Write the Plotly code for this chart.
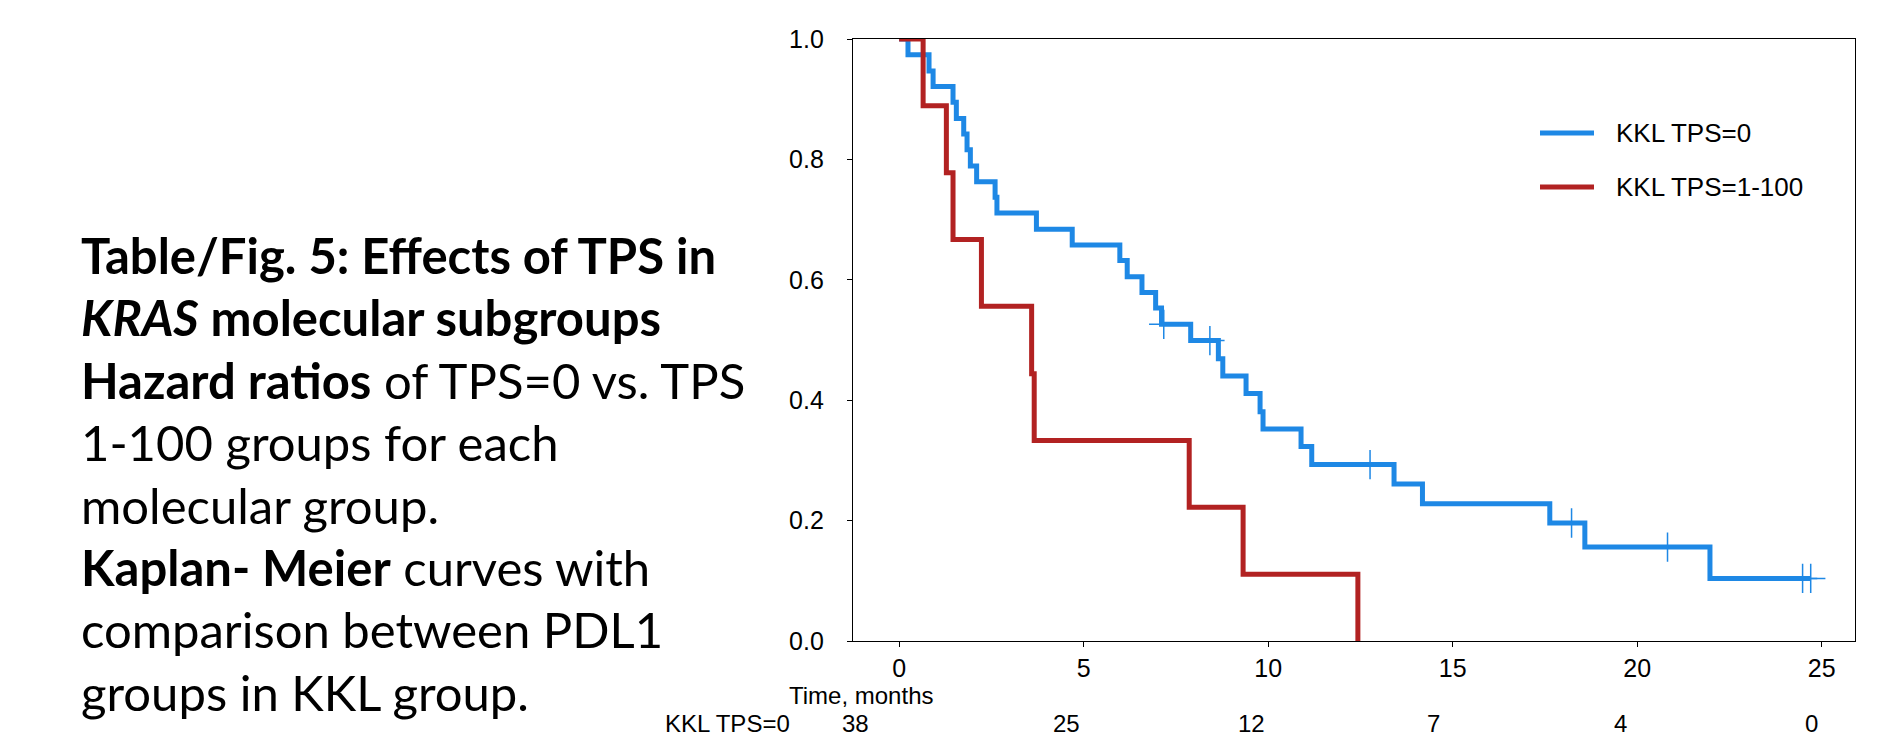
import plotly.graph_objects as go

# ---- data ----
tps0_times = [0, 0.24, 0.81, 0.92, 1.46, 1.55, 1.75, 1.84, 1.93, 2.10, 2.60, 2.65, 3.72, 4.69,
              5.98, 6.18, 6.58, 6.95, 7.11, 7.90, 8.65, 8.77, 9.40, 9.78, 9.86, 10.89, 11.18,
              13.41, 14.18, 17.63, 18.58, 21.97, 24.70]
tps0_surv = [1.0, 0.974, 0.947, 0.921, 0.895, 0.868, 0.842, 0.816, 0.789, 0.763, 0.737, 0.711,
             0.684, 0.658, 0.632, 0.605, 0.579, 0.553, 0.526, 0.499, 0.469, 0.440, 0.411, 0.381,
             0.352, 0.323, 0.293, 0.261, 0.228, 0.196, 0.156, 0.104, 0.104]
tps0_cens_times = [7.17, 8.42, 12.76, 18.22, 20.82, 24.48, 24.70]
tps0_cens_surv = [0.526, 0.499, 0.293, 0.196, 0.156, 0.104, 0.104]

tps1_times = [0, 0.65, 1.28, 1.46, 2.23, 3.59, 3.66, 7.86, 9.32, 12.43]
tps1_surv = [1.0, 0.889, 0.778, 0.667, 0.556, 0.444, 0.333, 0.222, 0.111, 0.0]

series_names = ["KKL TPS=0", "KKL TPS=1-100"]
x_ticks = [0, 5, 10, 15, 20, 25]
y_ticks = [0.0, 0.2, 0.4, 0.6, 0.8, 1.0]
risk_times = [0, 5, 10, 15, 20, 25]
risk_counts = [38, 25, 12, 7, 4, 0]

BLUE = "#1E88E5"
RED = "#B22222"
AX_FONT = "Liberation Sans, Arial, sans-serif"
TXT_FONT = "Lato, Open Sans, sans-serif"

# page body has an 8px margin; work in screen pixels and convert
OFF = 8
W, H = 1882 - 2 * OFF, 745 - 2 * OFF
PLOT_L, PLOT_R, PLOT_T, PLOT_B = 853, 1855, 39, 641   # screen pixels of plot area
L = PLOT_L - OFF
T = PLOT_T - OFF
R = W - (PLOT_R - OFF)
B = H - (PLOT_B - OFF)
PW, PH = PLOT_R - PLOT_L, PLOT_B - PLOT_T


def px_x(px):
    return (px - PLOT_L) / PW


def px_y(py):
    return (PLOT_B - py) / PH


fig = go.Figure()
fig.add_trace(go.Scatter(x=tps0_times, y=tps0_surv, mode="lines", line_shape="hv",
                         line=dict(color=BLUE, width=5), name=series_names[0],
                         showlegend=False))
fig.add_trace(go.Scatter(x=tps0_cens_times, y=tps0_cens_surv, mode="markers",
                         marker=dict(symbol="cross-thin", size=21,
                                     line=dict(color=BLUE, width=1.5)),
                         showlegend=False, cliponaxis=False, name=series_names[0] + " censored"))
fig.add_trace(go.Scatter(x=tps1_times, y=tps1_surv, mode="lines", line_shape="hv",
                         line=dict(color=RED, width=5), name=series_names[1],
                         showlegend=False))

annotations = []
shapes = []
# left explanatory text
left_lines = [
    "<b>Table/Fig. 5: Effects of TPS in</b>",
    "<b><i>KRAS</i> molecular subgroups</b>",
    "<b>Hazard ratios</b> of TPS=0 vs. TPS",
    "1-100 groups for each",
    "molecular group.",
    "<b>Kaplan- Meier</b> curves with",
    "comparison between PDL1",
    "groups in KKL group.",
]
for i, txt in enumerate(left_lines):
    annotations.append(dict(text=txt, xref="paper", yref="paper",
                            x=px_x(79), y=px_y(255 + i * 62.4),
                            xanchor="left", yanchor="middle", showarrow=False,
                            font=dict(family=TXT_FONT, size=49, color="black")))

# legend (drawn manually to match sample length)
legend_colors = [BLUE, RED]
legend_rows = [133, 187]
for name, col, ry in zip(series_names, legend_colors, legend_rows):
    shapes.append(dict(type="line", xref="paper", yref="paper",
                       x0=px_x(1540), x1=px_x(1594), y0=px_y(ry), y1=px_y(ry),
                       line=dict(color=col, width=5)))
    annotations.append(dict(text=name, xref="paper", yref="paper",
                            x=px_x(1614), y=px_y(ry), xanchor="left", yanchor="middle",
                            showarrow=False, font=dict(family=AX_FONT, size=26, color="black")))

# x axis title
annotations.append(dict(text="Time, months", xref="paper", yref="paper",
                        x=px_x(861), y=px_y(695), xanchor="center", yanchor="middle",
                        showarrow=False, font=dict(family=AX_FONT, size=24, color="black")))
# number at risk row
annotations.append(dict(text="KKL TPS=0", xref="paper", yref="paper",
                        x=px_x(663), y=px_y(723), xanchor="left", yanchor="middle",
                        showarrow=False, font=dict(family=AX_FONT, size=24, color="black")))
risk_shift = [-44, -17, -17, -19, -17, -10]
for t, n, s in zip(risk_times, risk_counts, risk_shift):
    annotations.append(dict(text=str(n), xref="x", yref="paper", x=t, y=px_y(723),
                            xshift=s, xanchor="center", yanchor="middle", showarrow=False,
                            font=dict(family=AX_FONT, size=24, color="black")))

fig.update_layout(
    width=W, height=H,
    margin=dict(l=L, r=R, t=T, b=B, pad=0),
    paper_bgcolor="white", plot_bgcolor="white",
    font=dict(family=AX_FONT, size=25, color="black"),
    showlegend=False,
    annotations=annotations,
    shapes=shapes,
)
fig.update_xaxes(range=[-1.25, 25.9], tickvals=x_ticks, ticktext=[str(v) for v in x_ticks],
                 ticks="outside", ticklen=5, tickcolor="black", showgrid=False,
                 zeroline=False, showline=True, linecolor="black", linewidth=1.3,
                 mirror=True, tickfont=dict(size=25))
fig.update_yaxes(range=[0, 1.0], tickvals=y_ticks, ticktext=[f"{v:.1f}" for v in y_ticks],
                 ticks="outside", ticklen=5, tickcolor="black", showgrid=False,
                 zeroline=False, showline=True, linecolor="black", linewidth=1.3,
                 mirror=True, ticklabelstandoff=18, tickfont=dict(size=25))

fig.write_html("out.html")
